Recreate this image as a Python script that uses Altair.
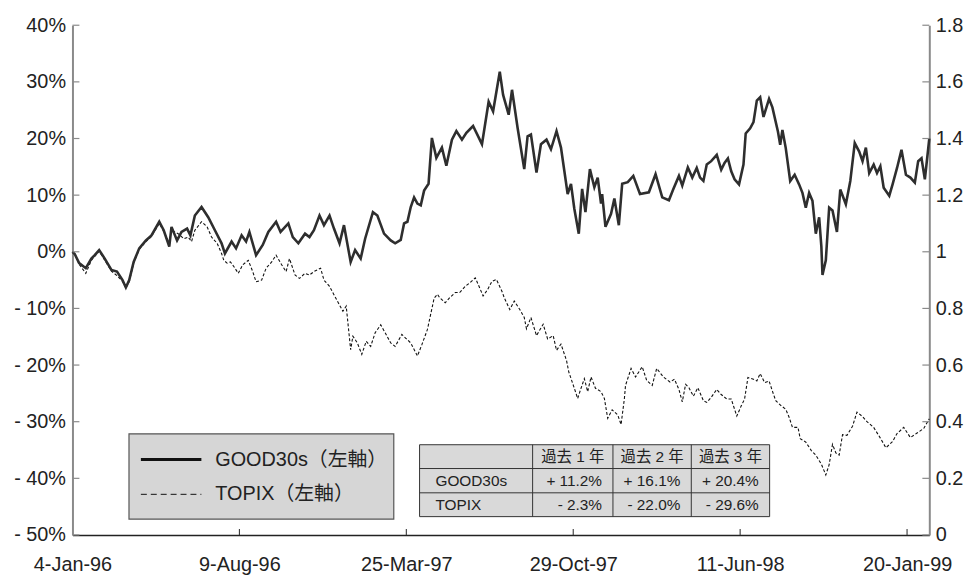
import altair as alt
import pandas as pd

# ---------------- data ----------------
# x = trading-day index from 4-Jan-96, y = cumulative return in %
good_idx = [0, 2, 6, 12, 17, 20, 24, 29, 35, 40, 45, 48, 51, 55, 60, 66, 71, 78, 82, 87, 89, 94, 98, 103, 106, 110,
            116, 122, 128, 134, 137, 143, 147, 152, 156, 159, 165, 171, 176, 183, 187, 194, 198, 203, 209, 213, 217,
            222, 226, 231, 235, 240, 244, 250, 254, 259, 263, 270, 274, 280, 286, 290, 295, 298, 301, 304, 307, 310,
            313, 316, 320, 323, 327, 332, 336, 341, 345, 350, 354, 360, 368, 374, 378, 384, 387, 392, 395, 400, 406,
            409, 412, 417, 421, 426, 430, 435, 439, 442, 445, 448, 451, 455, 458, 461, 465, 469, 472, 475, 476, 479,
            484, 487, 491, 494, 499, 504, 510, 518, 524, 530, 536, 540, 545, 548, 553, 557, 561, 564, 567, 570, 574,
            579, 583, 586, 589, 592, 595, 599, 603, 605, 609, 612, 615, 618, 621, 626, 629, 634, 636, 638, 641, 645,
            649, 653, 656, 659, 662, 665, 668, 671, 673, 674, 677, 680, 683, 687, 690, 695, 699, 703, 707, 710, 713,
            716, 720, 723, 726, 729, 734, 737, 741, 745, 749, 753, 757, 760, 763, 766, 770]
good_pct = [0.0, -0.4, -2.0, -2.9, -1.2, -0.6, 0.3, -1.2, -3.2, -3.5, -5.0, -6.3, -5.0, -1.8, 0.6, 2.0, 2.9, 5.3, 3.8,
            0.9, 4.4, 2.0, 3.5, 4.1, 2.9, 6.4, 7.9, 6.1, 3.8, 1.5, -0.3, 1.8, 0.6, 2.9, 1.8, 3.5, -0.6, 1.2, 3.5, 5.3,
            3.5, 5.0, 2.6, 1.5, 3.2, 2.6, 3.8, 6.4, 4.7, 6.4, 4.1, 1.5, 4.7, -1.8, 0.3, -1.2, 2.3, 7.0, 6.4, 3.2, 2.0,
            1.5, 2.1, 5.0, 5.3, 7.9, 9.6, 8.5, 8.2, 10.8, 12.0, 20.1, 16.6, 18.4, 15.2, 19.8, 21.3, 19.8, 21.0, 22.2,
            19.0, 26.5, 24.8, 31.8, 27.7, 24.2, 28.6, 21.9, 14.6, 20.4, 20.7, 14.0, 19.0, 19.8, 18.1, 21.3, 18.4, 14.3,
            10.2, 12.0, 7.6, 3.2, 11.1, 7.0, 14.6, 11.4, 13.1, 8.5, 10.2, 4.4, 6.7, 9.4, 4.7, 12.0, 12.3, 13.4, 10.2,
            10.5, 13.7, 9.6, 9.1, 11.1, 13.4, 11.7, 14.9, 13.1, 14.8, 13.1, 12.5, 15.4, 16.0, 17.1, 14.5, 15.7, 16.5,
            14.2, 12.8, 11.9, 15.4, 20.9, 21.8, 22.9, 26.7, 27.3, 23.8, 27.0, 25.5, 21.2, 18.9, 21.5, 18.3, 12.5, 13.6,
            11.9, 10.4, 7.8, 10.4, 9.0, 3.2, 6.1, 0.9, -4.1, -1.5, 7.8, 7.3, 3.5, 11.0, 8.4, 12.5, 19.2, 17.7, 16.0,
            18.4, 13.9, 15.4, 13.9, 15.1, 11.3, 9.9, 11.9, 14.8, 18.0, 13.6, 13.1, 12.2, 16.0, 16.5, 12.8, 20.0]

topix_idx = [0, 2, 6, 12, 17, 20, 24, 29, 35, 40, 45, 48, 51, 55, 60, 66, 71, 78, 82, 87, 89, 95, 100, 104, 107, 110,
             116, 121, 125, 130, 134, 136, 139, 142, 145, 149, 153, 158, 162, 165, 170, 174, 179, 183, 188, 192, 195,
             200, 204, 209, 213, 217, 223, 226, 231, 235, 240, 243, 246, 250, 252, 256, 260, 264, 268, 272, 277, 281,
             286, 290, 296, 304, 310, 314, 319, 325, 328, 330, 335, 339, 344, 348, 353, 357, 362, 366, 369, 373, 377,
             381, 386, 388, 393, 397, 402, 406, 408, 412, 417, 423, 427, 432, 435, 439, 444, 446, 451, 454, 457, 460,
             463, 466, 470, 475, 478, 481, 485, 490, 493, 496, 497, 502, 506, 512, 516, 521, 525, 531, 537, 541, 545,
             548, 551, 554, 558, 562, 567, 570, 574, 579, 583, 588, 592, 597, 601, 604, 607, 612, 615, 618, 622, 626,
             629, 632, 637, 641, 644, 647, 652, 654, 659, 664, 668, 673, 677, 680, 683, 686, 689, 692, 696, 701, 705,
             710, 714, 720, 726, 731, 737, 741, 747, 753, 759, 765, 769, 770]
topix_pct = [0.0, -0.3, -2.2, -3.8, -1.5, -0.8, 0.1, -1.5, -3.4, -4.2, -5.2, -6.4, -5.3, -2.0, 0.4, 1.8, 2.7, 5.0, 3.6,
             1.5, 3.8, 3.2, 2.3, 2.6, 1.8, 3.8, 5.3, 4.4, 2.6, 1.5, -0.3, -1.5, -2.0, -1.8, -2.6, -3.8, -2.3, -1.5, -3.5,
             -5.3, -5.0, -2.9, -1.8, -0.6, -2.3, -3.5, -1.2, -4.1, -4.7, -3.8, -4.1, -3.5, -2.9, -5.0, -6.1, -7.6, -9.4,
             -10.5, -9.6, -17.3, -14.9, -16.1, -18.1, -15.8, -16.7, -14.3, -12.9, -14.3, -16.1, -16.7, -14.6, -16.1,
             -18.4, -16.4, -13.7, -8.2, -7.5, -8.1, -9.0, -8.1, -7.2, -7.2, -6.1, -5.5, -4.6, -6.4, -7.8, -6.7, -5.2,
             -4.9, -7.0, -8.1, -10.2, -8.7, -10.2, -11.6, -13.6, -11.6, -14.8, -12.8, -15.4, -14.8, -17.4, -16.3,
             -19.2, -21.2, -24.1, -25.9, -24.1, -22.4, -24.7, -22.1, -24.1, -24.7, -25.9, -29.4, -27.9, -28.8, -30.5,
             -25.9, -23.6, -20.6, -22.1, -20.3, -22.7, -23.6, -20.6, -22.1, -23.0, -22.5, -24.3, -26.5, -23.4, -24.0,
             -25.5, -24.0, -26.3, -26.6, -25.7, -24.3, -25.2, -26.0, -26.0, -29.0, -27.2, -26.0, -22.2, -22.5, -22.8,
             -21.5, -23.1, -22.8, -24.6, -26.3, -27.2, -27.8, -29.2, -31.0, -31.0, -33.0, -33.6, -35.1, -35.9, -37.5,
             -39.4, -37.6, -34.0, -35.5, -35.9, -32.3, -32.4, -30.8, -28.3, -29.1, -30.0, -31.0, -32.9, -34.6, -33.5,
             -32.1, -31.0, -32.8, -32.0, -31.2, -29.8, -29.5]

x_tick_values = [0, 150, 300, 450, 600, 750]
x_tick_labels = ["4-Jan-96", "9-Aug-96", "25-Mar-97", "29-Oct-97", "11-Jun-98", "20-Jan-99"]
left_tick_values = [-50, -40, -30, -20, -10, 0, 10, 20, 30, 40]
right_tick_values = [0, 0.2, 0.4, 0.6, 0.8, 1, 1.2, 1.4, 1.6, 1.8]

series_names = ["GOOD30s", "TOPIX"]
axis_note = "（左軸）"
periods = ["過去 1 年", "過去 2 年", "過去 3 年"]
good_returns = [11.2, 16.1, 20.4]
topix_returns = [-2.3, -22.0, -29.6]

# ---------------- layout / style ----------------
W, H = 864, 514
FONT = "Liberation Sans, Arial, Noto Sans CJK JP"
TXT = "#222222"
X_DOMAIN = [0, 770]
AXFS = 20

def fmt_ret(v):
    return ("+ " if v >= 0 else "- ") + f"{abs(v):.1f}%"

x_label_expr = " : ".join(
    f"datum.value == {v} ? '{l}'" for v, l in zip(x_tick_values, x_tick_labels)
) + " : ''"

X = alt.X("idx:Q",
          scale=alt.Scale(domain=X_DOMAIN, nice=False, zero=False),
          axis=alt.Axis(values=x_tick_values, labelExpr=x_label_expr, ticks=False, grid=False,
                        domainColor="#222222", domainWidth=1.5, labelPadding=20, title=None,
                        labelFlush=False, labelOverlap=False, labelBound=False,
                        labelFont=FONT, labelFontSize=AXFS, labelColor=TXT))
Y = alt.Y("pct:Q",
          scale=alt.Scale(domain=[-50, 40], nice=False, zero=False),
          axis=alt.Axis(values=left_tick_values,
                        labelExpr="datum.value < 0 ? '- ' + (-datum.value) + '%' : datum.value + '%'",
                        ticks=False, grid=False, domainColor="#8a8a8a", domainWidth=2,
                        labelPadding=7, title=None, labelFont=FONT, labelFontSize=AXFS, labelColor=TXT))

good_df = pd.DataFrame({"idx": good_idx, "pct": good_pct})
topix_df = pd.DataFrame({"idx": topix_idx, "pct": topix_pct})

topix_line = alt.Chart(topix_df).mark_line(color="#111111", strokeWidth=1.1, strokeDash=[3, 2]).encode(x=X, y=Y)
good_line = alt.Chart(good_df).mark_line(color="#2e2e2e", strokeWidth=2.6).encode(x=X, y=Y)

# inward tick marks
xt_df = pd.DataFrame({"idx": x_tick_values[1:]})
x_ticks = alt.Chart(xt_df).mark_rule(color="#222222", strokeWidth=1).encode(
    x=X, y=alt.value(H), y2=alt.value(H - 6))
yt_df = pd.DataFrame({"pct": left_tick_values})
left_ticks = alt.Chart(yt_df).mark_rule(color="#8a8a8a", strokeWidth=1.2).encode(
    x=alt.value(0), x2=alt.value(7), y=Y)
right_ticks = alt.Chart(yt_df).mark_rule(color="#8a8a8a", strokeWidth=1.2).encode(
    x=alt.value(W - 7), x2=alt.value(W), y=Y)

one = pd.DataFrame({"k": [0]})

# legend box
LX0, LX1, LY0, LY1 = 57, 324, 412, 498
legend_layers = [
    alt.Chart(one).mark_rect(fill="#d6d6d6", stroke="#555555", strokeWidth=1.2).encode(
        x=alt.value(LX0), x2=alt.value(LX1), y=alt.value(LY0), y2=alt.value(LY1)),
    alt.Chart(one).mark_rule(color="#111111", strokeWidth=3).encode(
        x=alt.value(69), x2=alt.value(130), y=alt.value(438)),
    alt.Chart(one).mark_rule(color="#111111", strokeWidth=1, strokeDash=[6, 4]).encode(
        x=alt.value(69), x2=alt.value(130), y=alt.value(473)),
]
for name, ly in zip(series_names, [438, 473]):
    legend_layers.append(
        alt.Chart(one).mark_text(align="left", baseline="middle", font=FONT, fontSize=20, color=TXT).encode(
            x=alt.value(144), y=alt.value(ly), text=alt.value(name + axis_note)))

# returns table
TXE = [350, 464, 545, 624, 703]
TYE = [423, 447, 471.5, 495.5]
TFS = 15.5
table_layers = [
    alt.Chart(one).mark_rect(fill="#d9d9d9", stroke="#333333", strokeWidth=1).encode(
        x=alt.value(TXE[0]), x2=alt.value(TXE[-1]), y=alt.value(TYE[0]), y2=alt.value(TYE[-1]))
]
for yy in TYE[1:-1]:
    table_layers.append(alt.Chart(one).mark_rule(color="#333333", strokeWidth=1).encode(
        x=alt.value(TXE[0]), x2=alt.value(TXE[-1]), y=alt.value(yy)))
for xx in TXE[1:-1]:
    table_layers.append(alt.Chart(one).mark_rule(color="#333333", strokeWidth=1).encode(
        x=alt.value(xx), y=alt.value(TYE[0]), y2=alt.value(TYE[-1])))
for j, p in enumerate(periods):
    table_layers.append(alt.Chart(one).mark_text(align="center", baseline="middle", font=FONT, fontSize=TFS,
                                                 color=TXT).encode(
        x=alt.value((TXE[j + 1] + TXE[j + 2]) / 2), y=alt.value((TYE[0] + TYE[1]) / 2), text=alt.value(p)))
for i, (name, rets) in enumerate(zip(series_names, [good_returns, topix_returns])):
    yc = (TYE[i + 1] + TYE[i + 2]) / 2
    table_layers.append(alt.Chart(one).mark_text(align="left", baseline="middle", font=FONT, fontSize=TFS,
                                                 color=TXT).encode(
        x=alt.value(TXE[0] + 16), y=alt.value(yc), text=alt.value(name)))
    for j, v in enumerate(rets):
        table_layers.append(alt.Chart(one).mark_text(align="right", baseline="middle", font=FONT, fontSize=TFS,
                                                     color=TXT).encode(
            x=alt.value(TXE[j + 2] - 11), y=alt.value(yc), text=alt.value(fmt_ret(v))))

left = alt.layer(topix_line, good_line, x_ticks, left_ticks, right_ticks, *legend_layers, *table_layers)

r_df = pd.DataFrame({"r": right_tick_values})
right_axis = alt.Chart(r_df).mark_point(opacity=0).encode(
    x=alt.value(0),
    y=alt.Y("r:Q", scale=alt.Scale(domain=[0, 1.8], nice=False, zero=False),
            axis=alt.Axis(orient="right", values=right_tick_values, format="~g", ticks=False, grid=False,
                          domainColor="#8a8a8a", domainWidth=2, labelPadding=6, title=None,
                          labelFont=FONT, labelFontSize=AXFS, labelColor=TXT)))

chart = alt.layer(left, right_axis).resolve_scale(y="independent").properties(
    width=W, height=H,
    autosize=alt.AutoSizeParams(type="none"),
    padding={"left": 65, "top": 15, "right": 37, "bottom": 40},
).configure_view(stroke=None)

chart.save("out.html", embed_options={"renderer": "svg", "actions": False})
